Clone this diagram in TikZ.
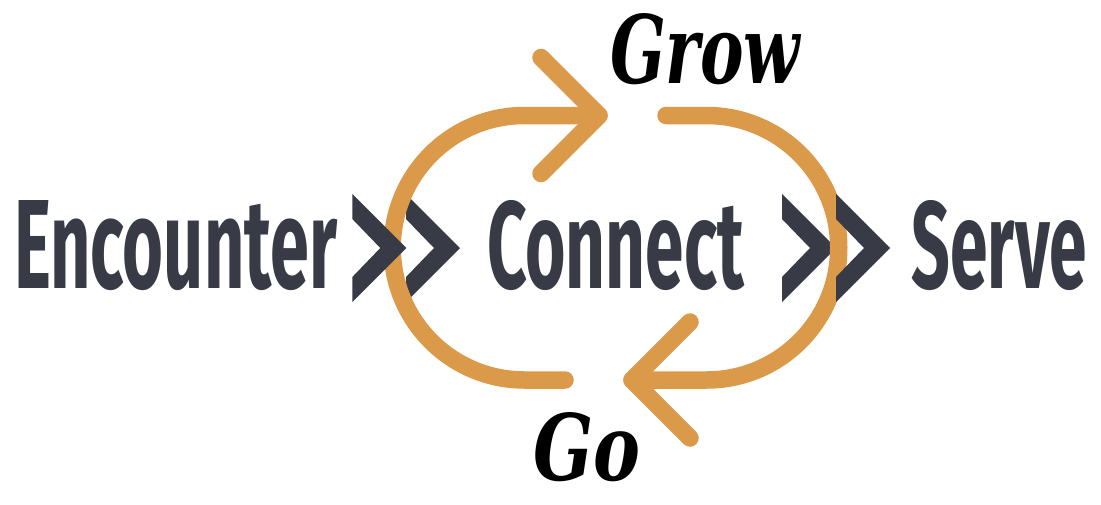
\documentclass[tikz,border=0pt]{standalone}
\usepackage{fontspec}
\usepackage{graphicx}
\newfontfamily\headfont{Fira Sans}
\newfontfamily\growfont{DejaVu Serif}
\definecolor{loopc}{HTML}{DB9A4A}
\definecolor{inkc}{HTML}{383B46}
\tikzset{
  word/.style={inner sep=0pt, outer sep=0pt, anchor=base west, text=inkc},
  scriptword/.style={inner sep=0pt, outer sep=0pt, anchor=base west, text=black},
  loopline/.style={draw=loopc, line width=17.5pt, line cap=round, line join=round},
  chevron/.style={fill=inkc}
}
\newcommand{\chevronat}[2]{%
  \fill[chevron] (#1,#2) -- ++(54,54) -- ++(-54,54) -- ++(0,-25) -- ++(28,-29) -- ++(-28,-29) -- cycle;}
\begin{document}
\begin{tikzpicture}[x=1pt,y=-1pt]
\useasboundingbox[fill=white] (0,0) rectangle (1101,504);
% chevrons beneath the loop
\chevronat{406}{194}
\chevronat{782}{194}
% loop
\draw[loopline] (565,380) -- (524.5,380) arc[start angle=90, end angle=270, radius=132.25] -- (599,115.5);
\draw[loopline] (541,57.5) -- (599,115.5) -- (541,173.5);
\draw[loopline] (666,115.5) -- (706.5,115.5) arc[start angle=-90, end angle=90, radius=132.25] -- (632,380);
\draw[loopline] (690,322) -- (632,380) -- (690,438);
% chevrons above the loop
\chevronat{352.3}{194}
\chevronat{836}{194}
% words
\node[word] (enc) at (14,288.3) {\resizebox{323pt}{88pt}{\headfont\bfseries Encounter}};
\node[word] (con) at (487,288.3) {\resizebox{257pt}{88pt}{\headfont\bfseries Connect}};
\node[word] (srv) at (911.7,288.3) {\resizebox{175pt}{88pt}{\headfont\bfseries Serve}};
\node[scriptword] (grow) at (610,83) {\resizebox{190pt}{70pt}{\growfont\bfseries\itshape Grow}};
\node[scriptword] (go) at (533,480) {\resizebox{107pt}{68pt}{\growfont\bfseries\itshape Go}};
\end{tikzpicture}
\end{document}
